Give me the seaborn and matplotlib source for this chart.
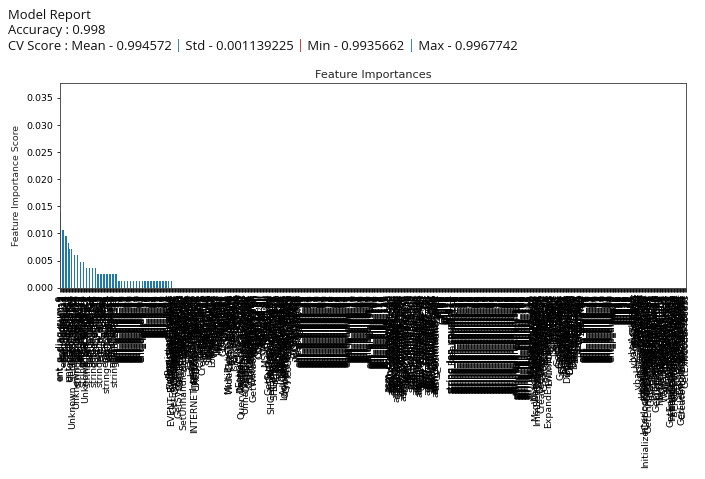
import matplotlib
matplotlib.use("Agg")
import matplotlib.pyplot as plt
import seaborn as sns
import pandas as pd

# ---------------- data ----------------
top_features = [
    "ent_q_diag_sum_0", "ent_p_diag_sum_2", "ent_q_diags_5", "ent_q_diag_12", "ent_p_17",
    "ent_q_diags_21", "ent_p_diag_4", "ent_q_diag_28", "ent_q_diags_9", "ent_p_3",
    "ent_q_diag_1", "ent_p_diag_sum_6", "Unknown_Sections", "ent_q_diags_33", "ent_p_24",
    "ent_q_diag_7", "ent_p_diag_11", "Unknown_Sections_lines_por", "ent_q_diag_19", "ent_p_8",
    "ent_q_diags_14", "Unknown_Sections_lines", "ent_p_diag_20", "ent_q_diag_30", "string_len_counts_1",
    "ent_p_12", "ent_q_diags_2", "ent_q_diag_22", "entropy_mean", "ent_p_diag_15",
    "ent_q_diags_27", "string_len_counts_3", "ent_q_diag_9", "ent_p_29", "Unknown_Sections_por",
    "ent_q_diags_11", "ent_p_diag_1", "string_len_counts_7", "ent_q_diag_4", "ent_p_5",
    "ent_q_diags_16", "ent_p_diag_23", "db_por", "dd_por", "ent_q_diag_25",
    "string_len_counts_2", "ent_p_19", "ent_q_diags_30", "ent_p_diag_9", "Img0",
    "Img1", "ent_q_diag_14", "ent_p_1", "string_len_counts_5", "ent_q_diags_7",
    "ent_p_diag_27", ".text:", ".rdata:", ".data:", "ent_q_diag_2",
    "ent_p_31", "ent_q_diags_24", "string_len_counts_11", "ent_p_diag_3", "ent_q_diag_26",
    "ent_p_10", "ent_q_diags_4", "dw_por", "ent_p_diag_12", "ent_q_diag_6",
    "ent_p_22", "ent_q_diags_18", "ent_p_diag_30", "string_len_counts_4", "ent_q_diag_21",
    "ent_p_14",
]
# indexed feature families of the same data set
ent_q_diag_more = [f"ent_q_diag_{k}" for k in range(31, 66)]
ent_p_more = [f"ent_p_{k}" for k in range(32, 66)]
ent_q_diags_more = [f"ent_q_diags_{k}" for k in range(34, 64)]
ent_q_diags_extra = [f"ent_q_diags_{k}" for k in range(64, 100)]
ent_p_diag_extra = [f"ent_p_diag_{k}" for k in range(71, 123)]
img_block_1 = [f"Img{k}" for k in range(2, 20)]
img_block_2 = [f"Img{k}" for k in range(20, 48)]
string_len_more = [f"string_len_counts_{k}" for k in range(39, 110)]
string_len_extra = [f"string_len_counts_{k}" for k in range(110, 118)]
ent_p_diag_more = [f"ent_p_diag_{k}" for k in range(31, 71)]

api_block_1 = [
    "RegisterClassExA", "RegisterClassExW", "EVENT_SINK_AddRef", "EVENT_SINK_Release",
    "EVENT_SINK_QueryInterface", "GetLogicalDrives", "GetLocaleInfoA", "GetEnvironmentStringsW",
    "GetCommandLineA", "GetModuleHandleA", "GetModuleFileNameA", "GetProcAddress", "GetStartupInfoA",
    "GetVersionExA", "GetSystemTimeAsFileTime", "GetTickCount", "GetCurrentProcessId",
    "GetCurrentThreadId", "GetLastError", "SetLastError", "SetUnhandledExceptionFilter",
    "SetHandleCount", "SetFilePointer", "SetEndOfFile", "SetStdHandle", "SetWindowPos",
    "SetWindowTextA", "SetTextColor", "SetBkMode", "SetCursor", "InternetOpenA", "InternetOpenUrlA",
    "InternetReadFile", "InternetCloseHandle", "INTERNET_STATUS_CALLBACK", "HttpSendRequestA",
    "HttpOpenRequestA", "URLDownloadToFileA", "WinExec", "WriteFile", "ReadFile", "CloseHandle",
    "CreateThread", "CreateProcessA", "CreateMutexA", "CreateEventA", "CreateDirectoryA",
    "DeleteFileA", "MoveFileExA", "CopyFileA", "FindFirstFileA", "FindNextFileA", "FindClose",
    "FindResourceA", "LoadResource", "LockResource", "SizeofResource", "FreeResource",
    "LoadLibraryA", "LoadLibraryExA", "FreeLibrary", "VirtualAlloc", "VirtualFree", "VirtualProtect",
    "VirtualQuery", "HeapAlloc", "HeapFree", "HeapReAlloc", "HeapCreate", "HeapDestroy", "HeapSize",
    "GlobalAlloc", "GlobalFree", "GlobalLock", "GlobalUnlock", "LocalAlloc", "LocalFree",
    "lstrcpyA", "lstrcatA", "lstrlenA", "lstrcmpiA", "MultiByteToWideChar", "WideCharToMultiByte",
    "GetStringTypeW", "LCMapStringW", "GetCPInfo", "GetACP", "GetOEMCP", "IsValidCodePage",
    "RtlUnwind", "RaiseException", "TlsAlloc", "TlsGetValue", "TlsSetValue", "TlsFree",
    "EnterCriticalSection", "LeaveCriticalSection", "DeleteCriticalSection",
    "QueryPerformanceCounter", "Sleep", "ExitThread", "TerminateProcess", "GetCurrentProcess",
    "UnhandledExceptionFilter", "IsDebuggerPresent", "OutputDebugStringA", "GetFileType",
    "GetStdHandle", "GetFileSize", "CreateFileMappingA", "MapViewOfFile", "UnmapViewOfFile",
    "GetTempPathA", "GetTempFileNameA", "GetWindowsDirectoryA",
]

dll_block = [
    "KERNEL32.dll", "USER32.dll", "GDI32.dll", "ADVAPI32.dll", "SHELL32.dll", "ole32.dll",
    "OLEAUT32.dll", "COMCTL32.dll", "WININET.dll", "WS2_32.dll", "MSVCRT.dll", "SHLWAPI.dll",
    "comdlg32.dll", "VERSION.dll", "WINMM.dll", "MSVBVM60.DLL", "ntdll.dll", "urlmon.dll",
    "crypt32.dll", "imm32.dll",
]

api_block_2 = [
    "GetSystemDirectoryA", "SHGetFolderPathA", "SHGetFolderPathW", "SHGetSpecialFolderPathA",
    "SHFileOperationA", "ShellExecuteA", "ShellExecuteExA", "SHBrowseForFolderA",
    "SHGetPathFromIDListA", "DragQueryFileA", "DragFinish", "RegOpenKeyExA", "RegQueryValueExA",
    "RegSetValueExA", "RegCloseKey", "RegCreateKeyExA", "RegDeleteKeyA", "RegEnumKeyExA",
    "RegEnumValueA", "OpenProcessToken", "AdjustTokenPrivileges", "LookupPrivilegeValueA",
    "CryptAcquireContextA", "CryptGenRandom", "CryptReleaseContext", "CoInitialize",
    "CoCreateInstance", "CoUninitialize", "OleInitialize", "SysAllocString", "SysFreeString",
    "VariantInit", "VariantClear", "wsprintfA", "wvsprintfA", "CharUpperA", "CharLowerA",
    "CharNextA", "MessageBoxA", "MessageBoxW",
]

asm_block = [
    "asm_commands_add", "asm_commands_call", "asm_commands_cdq", "asm_commands_cld",
    "asm_commands_cli", "asm_commands_cmc", "asm_commands_cmp", "asm_commands_cwd",
    "asm_commands_daa", "asm_commands_dd", "asm_commands_dec", "asm_commands_dw",
    "asm_commands_endp", "asm_commands_faddp", "asm_commands_fchs", "asm_commands_fdiv",
    "asm_commands_fdivr", "asm_commands_fistp", "asm_commands_fld", "asm_commands_fstcw",
    "asm_commands_fstp", "asm_commands_fword", "asm_commands_fxch", "asm_commands_imul",
    "asm_commands_in", "asm_commands_inc", "asm_commands_ins", "asm_commands_jb",
    "asm_commands_je", "asm_commands_jg", "asm_commands_jl", "asm_commands_jmp",
    "asm_commands_jnb", "asm_commands_jno", "asm_commands_jo", "asm_commands_jz",
    "asm_commands_lea", "asm_commands_mov", "asm_commands_mul", "asm_commands_not",
    "asm_commands_or", "asm_commands_out", "asm_commands_outs", "asm_commands_pop",
    "asm_commands_push", "asm_commands_rcl", "asm_commands_rcr", "asm_commands_rep",
    "asm_commands_ret", "asm_commands_rol", "asm_commands_ror", "asm_commands_sal",
    "asm_commands_sar", "asm_commands_sbb", "asm_commands_scas", "asm_commands_shl",
    "asm_commands_shr", "asm_commands_sidt", "asm_commands_stc", "asm_commands_std",
    "asm_commands_sti", "asm_commands_stos", "asm_commands_sub", "asm_commands_test",
    "asm_commands_wait", "asm_commands_xchg", "asm_commands_xor",
]

string_block = [
    "string_len_counts_12", "string_len_counts_13", "string_len_counts_14", "BreakPoint_por",
    "string_len_counts_15", "string_len_counts_16", "string_len_counts_17", "string_len_counts_18",
    "string_len_counts_19", "string_len_counts_20", "string_len_counts_21", "string_len_counts_22",
    "string_len_counts_23", "string_len_counts_24", "string_len_counts_25", "string_len_counts_26",
    "string_len_counts_27", "string_len_counts_28", "string_len_counts_29", "string_len_counts_30",
    "string_len_counts_31", "string_len_counts_32", "string_len_counts_33", "string_len_counts_34",
    "string_len_counts_35", "string_len_counts_36", "string_len_counts_37", "string_len_counts_38",
]

api_block_3 = [
    "stackreserve_size", "stackcommit_size", "ImageList_Add", "ImageList_Create", "ImageList_Destroy",
    "ImageList_Draw", "ImageList_ReplaceIcon", "MsgWaitForMultipleObjects", "ImmGetContext",
    "ImmReleaseContext", "ImmSetCompositionWindow", "CreateWindowExA", "CreateFontIndirectA",
    "CreateSolidBrush", "CreateCompatibleDC", "CreateCompatibleBitmap", "CreateDIBSection",
    "CreatePen", "CreatePopupMenu", "CreateDialogParamA", "ExitProcess", "ExitWindowsEx",
    "ExtTextOutA", "ExtractIconA", "ExpandEnvironmentStringsA", "EnumWindows", "EnumChildWindows",
    "EndDialog", "EndPaint", "BeginPaint", "BitBlt", "StretchBlt", "SelectObject", "DeleteObject",
    "DeleteDC", "GetDC", "ReleaseDC", "GetDeviceCaps", "GetObjectA", "GetStockObject", "GetSysColor",
    "GetSystemMetrics", "GetClientRect", "GetWindowRect", "GetWindowTextA", "GetDlgItem",
    "GetDlgItemTextA", "SendMessageA", "PostMessageA", "PostQuitMessage", "DispatchMessageA",
    "TranslateMessage", "PeekMessageA", "GetMessageA", "DefWindowProcA", "CallWindowProcA",
    "ShowWindow", "UpdateWindow", "DestroyWindow", "IsWindowVisible", "EnableWindow",
    "InvalidateRect", "LoadIconA", "LoadCursorA", "LoadStringA", "LoadBitmapA", "DrawTextA",
    "FillRect", "KillTimer", "SetTimer",
]

vba_block = [
    "__vbaAryUnlock", "__vbaAryDestruct", "__vbaStrCopy", "__vbaStrMove", "__vbaFreeStr",
    "__vbaFreeObj", "__vbaFreeVar", "__vbaHresultCheckObj", "__vbaNew2", "__vbaObjSet",
    "__vbaVarMove", "__vbaExceptHandler",
]

api_block_4 = [
    "InterlockedDecrement", "InterlockedIncrement",
    "InterlockedExchange", "InterlockedCompareExchange", "InitializeCriticalSection",
    "InitializeCriticalSectionAndSpinCount", "InitializeSListHead", "GetEnhMetaFileBits",
    "GetEnhMetaFileHeader", "GetEnhMetaFilePaletteEntries", "GetSystemInfo", "GetComputerNameA",
    "GetUserNameA", "GetVolumeInformationA", "GetDiskFreeSpaceExA", "GetDriveTypeA",
    "GetFileAttributesA", "SetFileAttributesA", "GetFullPathNameA", "GetShortPathNameA",
    "GetTimeZoneInformation", "GetLocalTime", "GetSystemTime", "FileTimeToSystemTime",
    "FileTimeToLocalFileTime", "SystemTimeToFileTime", "CompareStringA", "CompareStringW",
    "FlushFileBuffers", "WaitForSingleObject", "WaitForMultipleObjects", "ResumeThread",
    "SuspendThread", "OpenProcess", "ReadProcessMemory", "WriteProcessMemory",
]

api_block_5 = [
    "GetEnhMetaFileA", "GetEnhMetaFileW", "GetEnhMetaFileDescriptionA", "InterlockedExchangeAdd",
    "InterlockedPushEntrySList", "InitializeSecurityDescriptor", "InitCommonControlsEx",
    "IsProcessorFeaturePresent", "GetModuleHandleExW", "GetProcessHeap", "GetConsoleMode",
    "GetConsoleCP", "WriteConsoleW", "SetConsoleCtrlHandler", "DecodePointer", "EncodePointer",
    "GetNativeSystemInfo", "GetFileInformationByHandle", "DuplicateHandle",
    "CreateToolhelp32Snapshot", "Process32First", "Process32Next", "GetExitCodeProcess",
]

feature_names = (top_features + ent_q_diag_more + ent_p_more + api_block_1 + dll_block
                 + api_block_2 + ent_q_diags_more + ent_q_diags_extra + ent_p_diag_extra
                 + asm_block + img_block_1 + string_block + string_len_more + string_len_extra
                 + api_block_3 + ent_p_diag_more + img_block_2 + vba_block + api_block_4
                 + api_block_5)

# importance of the features that have a visible bar (sorted, descending)
nonzero_scores = (
    [0.0140, 0.0140, 0.0140]
    + [0.0107, 0.0107]
    + [0.0095, 0.0095, 0.0095, 0.0095, 0.0095]
    + [0.0083, 0.0083]
    + [0.0071, 0.0071, 0.0071, 0.0071, 0.0071]
    + [0.0060] * 8
    + [0.0048] * 9
    + [0.0036] * 16
    + [0.0025] * 26
    + [0.0012] * 75
)
# all remaining features have an importance of zero
zero_scores = [0.0] * (len(feature_names) - len(nonzero_scores))
scores = nonzero_scores + zero_scores

report_lines = ["Model Report", "Accuracy : 0.998"]
cv_segments = ["CV Score : Mean - 0.994572 ", "|", " Std - 0.001139225 ", "|",
               " Min - 0.9935662 ", "|", " Max - 0.9967742"]

BAR_COLOR = "#1f77b4"
TEXT_COLOR = "#111111"
PIPE_COLORS = {1: "#1f77b4", 3: "#d62728", 5: "#1f77b4"}

# ---------------- figure ----------------
sns.set_style("white")
plt.rcParams["font.family"] = ["DejaVu Sans"]
plt.rcParams["axes.edgecolor"] = "#444444"
plt.rcParams["axes.linewidth"] = 0.9
plt.rcParams["xtick.color"] = "black"
plt.rcParams["ytick.color"] = "black"
plt.rcParams["xtick.bottom"] = True
plt.rcParams["ytick.left"] = True

DPI = 72
W, H = 705, 479
fig = plt.figure(figsize=(W / DPI, H / DPI), dpi=DPI)
fig.patch.set_facecolor("white")

ax_left, ax_right, ax_top, ax_bottom = 60, 686, 83.3, 287.7
ax = fig.add_axes([ax_left / W, 1 - ax_bottom / H, (ax_right - ax_left) / W, (ax_bottom - ax_top) / H])

df = pd.DataFrame({"feature": feature_names, "score": scores})
sns.barplot(data=df, x="feature", y="score", color=BAR_COLOR, saturation=1,
            width=0.5, linewidth=0, edgecolor="none", ax=ax)

ax.set_ylim(0, 0.0377)
ax.set_title("Feature Importances", fontsize=11.3, pad=5)
ax.set_ylabel("Feature Importance Score", fontsize=9.4, labelpad=5)
ax.set_xlabel("")
ax.tick_params(axis="x", labelrotation=90, labelsize=9.4, length=3.5, width=0.8, pad=3)
ax.tick_params(axis="y", labelsize=9.4, length=3.5, width=0.8)
for lab in ax.get_xticklabels():
    lab.set_rotation(90)
for sp in ax.spines.values():
    sp.set_visible(True)

# ---------------- header text ----------------
HDR_SIZE = 13
HDR_FONT = ["Open Sans", "DejaVu Sans"]
x0 = 8 / W
line_y = [15, 30.5, 46]
for txt, yy in zip(report_lines, line_y[:2]):
    fig.text(x0, 1 - yy / H, txt, fontsize=HDR_SIZE, family=HDR_FONT, color=TEXT_COLOR, va="center")

renderer = fig.canvas.get_renderer()
xc = x0
for i, seg in enumerate(cv_segments):
    col = PIPE_COLORS.get(i, TEXT_COLOR)
    t = fig.text(xc, 1 - line_y[2] / H, seg, fontsize=HDR_SIZE, family=HDR_FONT, color=col, va="center")
    bb = t.get_window_extent(renderer)
    xc += bb.width / fig.bbox.width

fig.savefig("out.png", dpi=DPI, facecolor="white")
